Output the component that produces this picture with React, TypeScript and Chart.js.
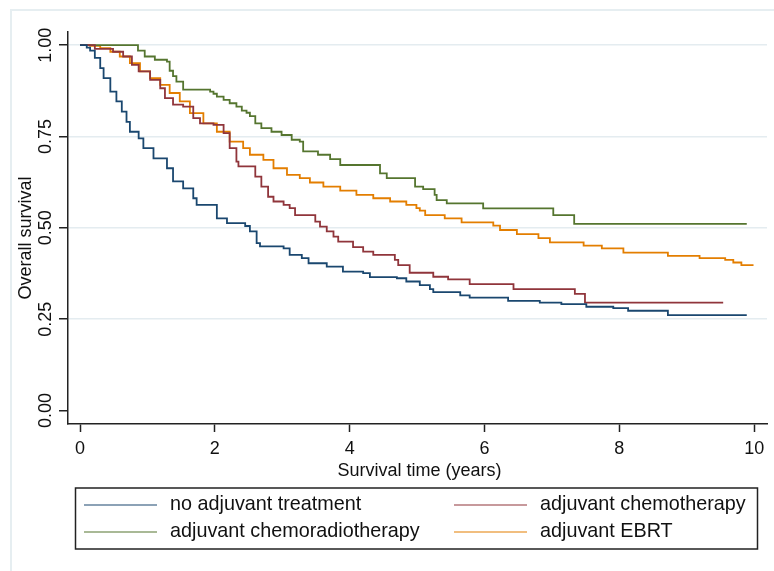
import React, { useEffect, useRef } from 'react';
import { Chart, registerables } from 'chart.js';

Chart.register(...registerables);

const seriesNames = [
  'no adjuvant treatment',
  'adjuvant chemotherapy',
  'adjuvant chemoradiotherapy',
  'adjuvant EBRT',
];
const seriesColors = ['#1a476f', '#90353b', '#55752f', '#e37e00'];

const noAdjTime = [0, 0.1, 0.15, 0.22, 0.3, 0.35, 0.45, 0.54, 0.62, 0.69, 0.74, 0.87, 0.94, 1.09, 1.29, 1.38, 1.53, 1.68, 1.73, 2.03, 2.18, 2.45, 2.52, 2.62, 2.67, 3.02, 3.11, 3.29, 3.39, 3.66, 3.9, 4.2, 4.3, 4.7, 4.84, 5.04, 5.19, 5.24, 5.64, 5.78, 6.35, 6.82, 7.14, 7.51, 7.91, 8.13, 8.72, 9.89];
const noAdjSurv = [1, 0.993, 0.985, 0.965, 0.937, 0.91, 0.873, 0.846, 0.818, 0.79, 0.763, 0.745, 0.718, 0.69, 0.663, 0.627, 0.608, 0.581, 0.563, 0.526, 0.513, 0.505, 0.49, 0.458, 0.449, 0.444, 0.426, 0.417, 0.403, 0.394, 0.38, 0.376, 0.365, 0.362, 0.353, 0.343, 0.332, 0.324, 0.315, 0.309, 0.3, 0.295, 0.291, 0.284, 0.28, 0.273, 0.261, 0.261];

const chemoTime = [0, 0.22, 0.49, 0.64, 0.77, 0.87, 1.04, 1.19, 1.26, 1.38, 1.53, 1.68, 1.78, 1.98, 2.13, 2.22, 2.32, 2.35, 2.6, 2.69, 2.79, 2.87, 3.02, 3.11, 3.19, 3.49, 3.56, 3.66, 3.76, 3.83, 4.05, 4.2, 4.35, 4.67, 4.72, 4.89, 5.24, 5.46, 5.78, 6.43, 7.34, 7.49, 9.54];
const chemoSurv = [1, 0.99, 0.982, 0.969, 0.946, 0.928, 0.905, 0.882, 0.855, 0.837, 0.832, 0.8, 0.786, 0.782, 0.759, 0.718, 0.681, 0.668, 0.64, 0.613, 0.585, 0.572, 0.563, 0.554, 0.535, 0.517, 0.503, 0.49, 0.476, 0.462, 0.447, 0.435, 0.426, 0.412, 0.398, 0.377, 0.366, 0.359, 0.346, 0.332, 0.319, 0.295, 0.295];

const chemoRadioTime = [0, 0.86, 0.96, 1.11, 1.29, 1.33, 1.38, 1.43, 1.53, 1.93, 1.98, 2.03, 2.13, 2.22, 2.32, 2.4, 2.47, 2.52, 2.6, 2.69, 2.84, 2.99, 3.14, 3.26, 3.31, 3.53, 3.71, 3.86, 4.45, 4.55, 4.97, 5.09, 5.26, 5.29, 5.44, 5.98, 7.02, 7.33, 9.89];
const chemoRadioSurv = [1, 0.985, 0.969, 0.96, 0.955, 0.93, 0.915, 0.9, 0.878, 0.873, 0.867, 0.859, 0.85, 0.841, 0.832, 0.821, 0.815, 0.806, 0.786, 0.773, 0.763, 0.754, 0.741, 0.736, 0.709, 0.7, 0.688, 0.672, 0.649, 0.636, 0.613, 0.606, 0.59, 0.576, 0.567, 0.553, 0.535, 0.511, 0.511];

const ebrtTime = [0, 0.15, 0.3, 0.45, 0.59, 0.74, 0.89, 1.04, 1.19, 1.33, 1.48, 1.63, 1.83, 2.03, 2.22, 2.42, 2.52, 2.72, 2.87, 3.07, 3.26, 3.41, 3.61, 3.86, 4.1, 4.35, 4.6, 4.84, 4.99, 5.04, 5.12, 5.41, 5.66, 6.13, 6.23, 6.48, 6.8, 6.97, 7.47, 7.74, 8.06, 8.72, 9.19, 9.57, 9.69, 9.81, 9.99];
const ebrtSurv = [1, 0.998, 0.992, 0.982, 0.969, 0.951, 0.928, 0.91, 0.891, 0.869, 0.846, 0.814, 0.786, 0.763, 0.736, 0.718, 0.7, 0.686, 0.663, 0.645, 0.636, 0.624, 0.613, 0.602, 0.59, 0.581, 0.572, 0.563, 0.554, 0.547, 0.535, 0.526, 0.515, 0.506, 0.494, 0.483, 0.472, 0.46, 0.451, 0.444, 0.432, 0.423, 0.417, 0.412, 0.405, 0.398, 0.398];

const seriesTimes = [noAdjTime, chemoTime, chemoRadioTime, ebrtTime];
const seriesSurv = [noAdjSurv, chemoSurv, chemoRadioSurv, ebrtSurv];

const xTitle = 'Survival time (years)';
const yTitle = 'Overall survival';

const FONT = '"Liberation Sans", Arial, Helvetica, sans-serif';
const TEXT = '#111111';
const AXIS = '#222222';

const decorPlugin = {
  id: 'stataDecor',
  beforeDraw(chart: any) {
    const { ctx, width, height } = chart;
    ctx.save();
    ctx.fillStyle = '#ffffff';
    ctx.fillRect(0, 0, width, height);
    ctx.strokeStyle = '#e6eef1';
    ctx.lineWidth = 2;
    ctx.strokeRect(11, 10, width + 20, height + 20);
    ctx.restore();
  },
  afterDraw(chart: any) {
    const { ctx, chartArea } = chart;
    const xs = chart.scales.x;
    const ys = chart.scales.y;
    ctx.save();
    ctx.fillStyle = TEXT;
    ctx.font = `18px ${FONT}`;
    // x tick labels
    ctx.textAlign = 'center';
    ctx.textBaseline = 'alphabetic';
    xs.ticks.forEach((t: any) => {
      ctx.fillText(String(t.value), xs.getPixelForValue(t.value), chartArea.bottom + 30);
    });
    // y tick labels (rotated)
    ys.ticks.forEach((t: any) => {
      const py = ys.getPixelForValue(t.value);
      ctx.save();
      ctx.translate(chartArea.left - 17, py);
      ctx.rotate(-Math.PI / 2);
      ctx.textAlign = 'center';
      ctx.fillText(Number(t.value).toFixed(2), 0, 0);
      ctx.restore();
    });
    // axis titles
    ctx.textAlign = 'center';
    ctx.fillText(xTitle, (chartArea.left + chartArea.right) / 2 + 2, chartArea.bottom + 52);
    ctx.save();
    ctx.translate(chartArea.left - 37, (chartArea.top + chartArea.bottom) / 2 + 10);
    ctx.rotate(-Math.PI / 2);
    ctx.fillText(yTitle, 0, 0);
    ctx.restore();

    // legend
    const boxL = 75.5, boxT = 488, boxW = 682, boxH = 61;
    ctx.strokeStyle = AXIS;
    ctx.lineWidth = 1.5;
    ctx.strokeRect(boxL, boxT, boxW, boxH);
    const colX = [84, 454];
    const rowY = [505, 532];
    ctx.font = `19.8px ${FONT}`;
    ctx.textAlign = 'left';
    ctx.textBaseline = 'middle';
    chart.data.datasets.forEach((ds: any, i: number) => {
      const cx = colX[i % 2];
      const cy = rowY[Math.floor(i / 2)];
      ctx.strokeStyle = ds.borderColor;
      ctx.lineWidth = 1.2;
      ctx.beginPath();
      ctx.moveTo(cx, cy);
      ctx.lineTo(cx + 73, cy);
      ctx.stroke();
      ctx.fillStyle = TEXT;
      ctx.fillText(ds.label, cx + 86, cy);
    });
    ctx.restore();
  },
};

export default function App() {
  const canvasRef = useRef<HTMLCanvasElement | null>(null);

  useEffect(() => {
    const canvas = canvasRef.current;
    if (!canvas) return;
    const datasets = seriesNames.map((name, i) => ({
      label: name,
      data: seriesTimes[i].map((t, j) => ({ x: t, y: seriesSurv[i][j] })),
      borderColor: seriesColors[i],
      backgroundColor: seriesColors[i],
      borderWidth: 1.8,
      pointRadius: 0,
      stepped: 'before' as const,
      fill: false,
    }));
    const chart = new Chart(canvas, {
      type: 'line',
      data: { datasets },
      options: {
        animation: false,
        responsive: false,
        devicePixelRatio: 1,
        events: [],
        layout: { padding: { top: 32, right: 7, left: 0, bottom: 0 } },
        plugins: {
          legend: { display: false },
          tooltip: { enabled: false },
          title: { display: false },
        },
        scales: {
          x: {
            type: 'linear',
            min: -0.178,
            max: 10.19,
            ticks: { display: false, stepSize: 2, includeBounds: false },
            grid: {
              display: true,
              color: 'rgba(0,0,0,0)',
              tickColor: AXIS,
              tickLength: 8,
              tickWidth: 1.5,
              drawTicks: true,
            },
            border: { display: true, color: AXIS, width: 1.5 },
            afterFit: (s: any) => {
              s.height = 147;
            },
          },
          y: {
            type: 'linear',
            min: -0.037,
            max: 1.036,
            ticks: { display: false, stepSize: 0.25, includeBounds: false },
            grid: {
              display: true,
              color: (c: any) => (c.tick && Math.abs(c.tick.value) < 1e-6 ? 'rgba(0,0,0,0)' : '#e4ecf0'),
              lineWidth: 1.5,
              tickColor: AXIS,
              tickLength: 9,
              tickWidth: 1.5,
              drawTicks: true,
            },
            border: { display: true, color: AXIS, width: 1.5 },
            afterFit: (s: any) => {
              s.width = 68;
            },
          },
        },
      } as any,
      plugins: [decorPlugin],
    });
    return () => chart.destroy();
  }, []);

  return (
    <div style={{ position: 'fixed', left: 0, top: 0, width: 774, height: 571, background: '#fff' }}>
      <canvas ref={canvasRef} width={774} height={571} style={{ display: 'block', width: 774, height: 571 }} />
    </div>
  );
}
